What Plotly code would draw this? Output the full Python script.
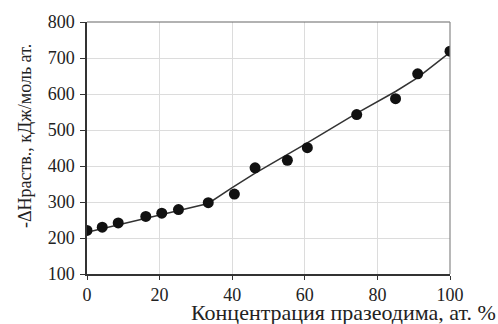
import plotly.graph_objects as go

# Data
conc = [0, 4.2, 8.6, 16.2, 20.6, 25.2, 33.4, 40.6, 46.3, 55.2, 60.7, 74.3, 85.0, 91.1, 100]
dh = [221, 230, 242, 260, 269, 279, 298, 322, 395, 416, 451, 543, 587, 656, 719]

fit_x = [0, 33.4, 40, 46, 60, 74, 85, 91, 97, 100]
fit_y = [216, 296, 340, 378, 460, 545, 607, 645, 692, 716]

x_ticks = [0, 20, 40, 60, 80, 100]
y_ticks = [100, 200, 300, 400, 500, 600, 700, 800]

font_family = "Liberation Serif, serif"
tick_font = dict(family=font_family, size=18, color="#222222")

fig = go.Figure()
fig.add_trace(go.Scatter(x=fit_x, y=fit_y, mode="lines",
                         line=dict(color="#333333", width=1.5), hoverinfo="skip"))
fig.add_trace(go.Scatter(x=conc, y=dh, mode="markers",
                         marker=dict(color="#111111", size=11)))

fig.update_layout(
    width=498, height=324,
    margin=dict(l=87, r=48, t=20, b=50),
    paper_bgcolor="white", plot_bgcolor="white",
    showlegend=False,
    font=dict(family=font_family, size=18, color="#222222"),
)
fig.update_xaxes(range=[0, 100], tickvals=x_ticks, showgrid=True, gridcolor="#dcdcdc",
                 gridwidth=1, zeroline=False, showline=True, linecolor="#333333", linewidth=1.5,
                 ticks="outside", ticklen=4, tickcolor="#333333", tickfont=tick_font,
                 ticklabelstandoff=0)
fig.update_yaxes(range=[100, 800], tickvals=y_ticks, showgrid=True, gridcolor="#dcdcdc",
                 gridwidth=1, zeroline=False, showline=True, linecolor="#333333", linewidth=1.5,
                 ticks="outside", ticklen=5, tickcolor="#333333", tickfont=tick_font,
                 ticklabelstandoff=2)

# top and right frame lines (grey)
fig.add_shape(type="line", xref="paper", yref="paper", x0=0, x1=1, y0=1, y1=1,
              line=dict(color="#666666", width=1.2))
fig.add_shape(type="line", xref="paper", yref="paper", x0=1, x1=1, y0=0, y1=1,
              line=dict(color="#888888", width=1.2))

fig.add_annotation(text="Концентрация празеодима, ат. %", xref="paper", yref="paper",
                   x=(498 - 87) / 363, y=-(313 - 274) / 254, xanchor="right", yanchor="middle",
                   showarrow=False, font=dict(size=22, family=font_family, color="#222222"))
fig.add_annotation(text="-ΔHраств., кДж/моль ат.", xref="paper", yref="paper",
                   x=-(87 - 25) / 363, y=(274 - 135) / 254, xanchor="center", yanchor="middle",
                   textangle=-90, showarrow=False,
                   font=dict(size=18, family=font_family, color="#222222"))

fig.write_html("out.html", config={"displayModeBar": False},
               post_script="document.body.style.margin='0';")
